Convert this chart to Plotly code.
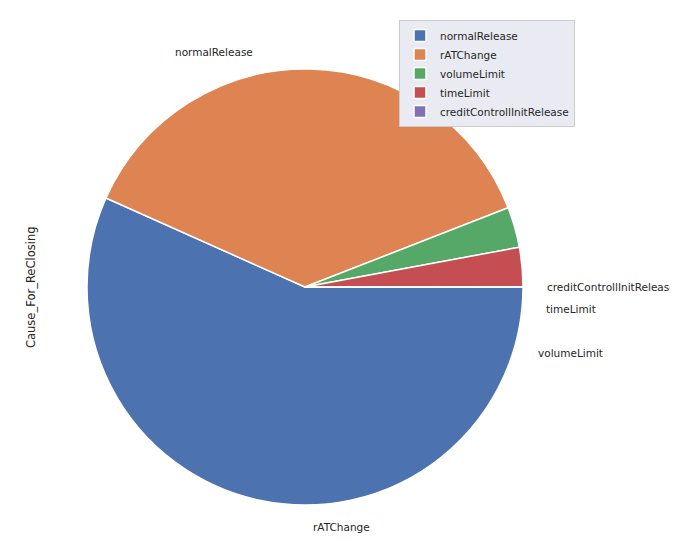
import math
import plotly.graph_objects as go

labels = ["normalRelease", "rATChange", "volumeLimit", "timeLimit", "creditControllInitRelease"]
values = [5670, 3740, 300, 290, 2]
colors = ["#4c72b0", "#dd8452", "#55a868", "#c44e52", "#8172b3"]

W, H = 678, 559
cx, cy, r = 297, 279, 218
x0, x1 = (cx - r) / W, (cx + r) / W
y0, y1 = 1 - (cy + r) / H, 1 - (cy - r) / H

fig = go.Figure(go.Pie(
    labels=labels, values=values, sort=False, direction="clockwise",
    rotation=90, textinfo="none", hoverinfo="label+value",
    marker=dict(colors=colors, line=dict(color="white", width=1.5)),
    domain=dict(x=[x0, x1], y=[y0, y1]),
))

total = sum(values)
cum = 0
anns = []
for lab, v in zip(labels, values):
    mid = (cum + v / 2) / total * 2 * math.pi
    cum += v
    px = cx + 1.1 * r * math.cos(mid)
    py = cy - 1.1 * r * math.sin(mid)
    anns.append(dict(x=px / W, y=1 - py / H, xref="paper", yref="paper", text=lab,
                     showarrow=False, xanchor="left" if math.cos(mid) > 0 else "right",
                     yanchor="middle", font=dict(size=10.5, color="#262626")))
anns.append(dict(x=14 / W, y=1 - 279 / H, xref="paper", yref="paper", text="Cause_For_ReClosing",
                 showarrow=False, textangle=-90, font=dict(size=11.5, color="#262626")))

fig.update_layout(
    width=W, height=H, margin=dict(l=0, r=0, t=0, b=0),
    paper_bgcolor="white", plot_bgcolor="white",
    font=dict(family="DejaVu Sans", size=10.5, color="#262626"),
    annotations=anns,
    legend=dict(x=391 / W, y=1 - 12 / H, xanchor="left", yanchor="top",
                bgcolor="#eaeaf2", bordercolor="#cccccc", borderwidth=1,
                font=dict(size=10.5), itemwidth=30, tracegroupgap=0),
)
fig.write_html("out.html")
